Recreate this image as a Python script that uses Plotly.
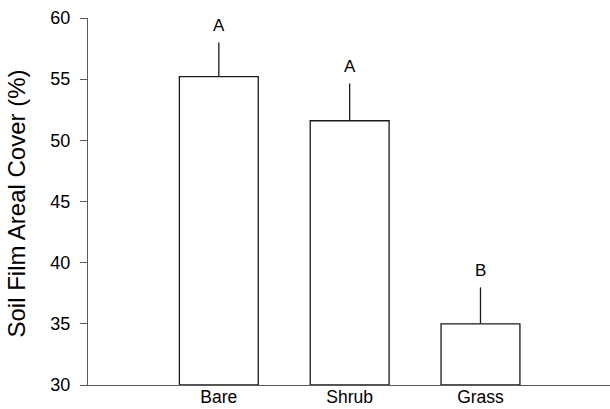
import plotly.graph_objects as go

categories = ["Bare", "Shrub", "Grass"]
means = [55.2, 51.6, 35.0]
errors = [2.8, 3.05, 2.98]
letters = ["A", "A", "B"]
y_ticks = [30, 35, 40, 45, 50, 55, 60]

FONT = "Liberation Sans, Arial, sans-serif"
AXIS_COLOR = "#5a5a5a"

fig = go.Figure()
fig.add_trace(go.Bar(
    x=categories,
    y=[m - 30 for m in means],
    base=30,
    width=0.603,
    marker=dict(color="white", line=dict(color="#1a1a1a", width=1.3)),
    error_y=dict(type="data", symmetric=False, array=errors,
                 arrayminus=[0] * len(errors), width=0,
                 color="#1a1a1a", thickness=1.3),
))

for c, m, e, t in zip(categories, means, errors, letters):
    fig.add_annotation(x=c, y=m + e, text=t, showarrow=False,
                       yanchor="bottom", yshift=5,
                       font=dict(family=FONT, size=17, color="black"))

fig.add_annotation(x=0, y=0.5, xref="paper", yref="paper",
                   text="Soil Film Areal Cover (%)", textangle=-90,
                   showarrow=False, xanchor="center", yanchor="middle",
                   xshift=-72, yshift=-2,
                   font=dict(family=FONT, size=24, color="black"))

fig.update_layout(
    width=610, height=409,
    margin=dict(l=88, r=0, t=18, b=24),
    plot_bgcolor="white", paper_bgcolor="white",
    showlegend=False,
    font=dict(family=FONT, size=18, color="black"),
    xaxis=dict(range=[-1, 2.99], showline=True, linecolor=AXIS_COLOR,
               linewidth=1.3, ticks="", showgrid=False, zeroline=False,
               automargin=False, ticklabelstandoff=-4,
               tickfont=dict(size=17.5)),
    yaxis=dict(range=[30, 60], tickvals=y_ticks, showline=True,
               linecolor=AXIS_COLOR, linewidth=1.3, ticks="outside",
               ticklen=7, tickcolor=AXIS_COLOR, tickwidth=1.3,
               ticklabelstandoff=6, automargin=False,
               showgrid=False, zeroline=False, tickfont=dict(size=18)),
)

fig.write_html("out.html")
